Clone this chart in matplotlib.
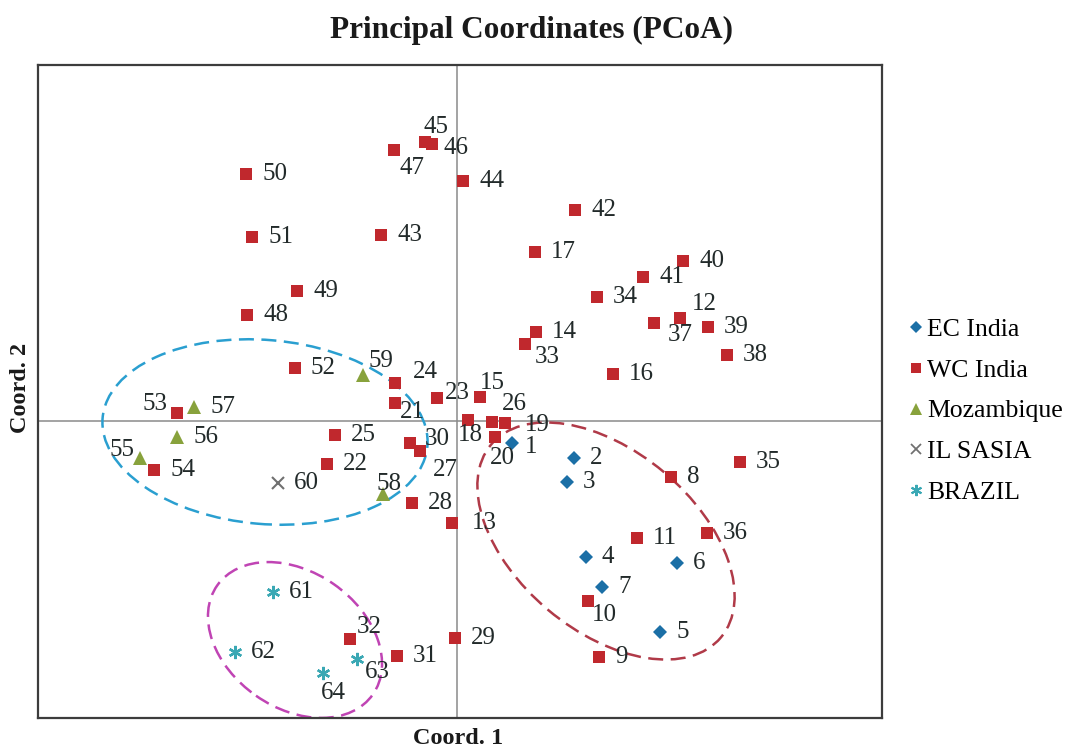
import matplotlib
matplotlib.use("Agg")
import matplotlib.pyplot as plt
from matplotlib.patches import Ellipse
from matplotlib.lines import Line2D

plt.rcParams["font.family"] = ["Liberation Serif", "DejaVu Serif"]

# ---- PCoA scores (Coord. 1, Coord. 2) by group ----
ec_ids = [1, 2, 3, 4, 5, 6, 7]
ec_x = [0.275, 0.585, 0.55, 0.645, 1.015, 1.10, 0.725]
ec_y = [-0.11, -0.185, -0.305, -0.68, -1.055, -0.71, -0.83]

wc_ids = list(range(8, 55))
wc_x = [1.07, 0.71, 0.655, 0.90, 1.115, -0.025, 0.395, 0.115, 0.78, 0.39,
        0.055, 0.24, 0.19, -0.31, -0.65, -0.10, -0.31, -0.61, 0.175, -0.185,
        -0.225, -0.01, -0.235, -0.30, -0.535, 0.34, 0.70, 1.415, 1.25, 0.985,
        1.35, 1.255, 1.13, 0.93, 0.59, -0.38, 0.03, -0.16, -0.125, -0.315,
        -1.05, -0.80, -1.055, -1.025, -0.81, -1.40, -1.515]
wc_y = [-0.28, -1.18, -0.90, -0.585, 0.515, -0.51, 0.445, 0.12, 0.235, 0.845,
        0.005, -0.01, -0.08, 0.09, -0.215, 0.115, 0.19, -0.07, -0.005, -0.15,
        -0.41, -1.085, -0.11, -1.175, -1.09, 0.385, 0.62, -0.205, -0.56, 0.49,
        0.33, 0.47, 0.80, 0.72, 1.055, 0.93, 1.20, 1.395, 1.385, 1.355,
        0.53, 0.65, 1.235, 0.92, 0.265, 0.04, -0.245]

moz_ids = [55, 56, 57, 58, 59]
moz_x = [-1.585, -1.40, -1.315, -0.37, -0.47]
moz_y = [-0.185, -0.08, 0.07, -0.365, 0.23]

il_ids = [60]
il_x = [-0.895]
il_y = [-0.31]

br_ids = [61, 62, 63, 64]
br_x = [-0.92, -1.11, -0.50, -0.67]
br_y = [-0.855, -1.155, -1.19, -1.26]

group_names = ["EC India", "WC India", "Mozambique", "IL SASIA", "BRAZIL"]

# ---- styling ----
groups = [
    (ec_ids, ec_x, ec_y, dict(marker="D", color="#1b6fa6", ms=7.5)),
    (wc_ids, wc_x, wc_y, dict(marker="s", color="#c0282d", ms=9.3)),
    (moz_ids, moz_x, moz_y, dict(marker="^", color="#88a23c", ms=9.5)),
    (il_ids, il_x, il_y, dict(marker="x", color="#707070", ms=9.0, mew=1.5)),
    (br_ids, br_x, br_y, dict(marker=(6, 2, 0), color="#3aa8b4", ms=9.5, mew=1.7)),
]

# label offsets in pixels (dx, dy) for ids that are not placed just to the right
label_offsets = {
    53: (-35, 9), 55: (-31, 8), 58: (-6, 10), 59: (5, 14), 24: (18, 11),
    21: (5, -9), 23: (8, 5), 30: (15, 4), 27: (13, -19), 18: (-10, -15),
    15: (0, 14), 26: (10, 18), 19: (20, -2), 20: (-5, -21), 1: (13, -4),
    10: (4, -14), 32: (7, 12), 63: (8, -13), 64: (-2, -20), 45: (-1, 15),
    46: (12, -4), 47: (6, -18), 12: (12, 14), 37: (14, -12), 33: (10, -13),
    13: (20, 0),
}
default_offset = (16, 0)

W, H = 1071, 751
fig = plt.figure(figsize=(W / 100, H / 100), dpi=100)
ax = fig.add_axes([38 / W, (H - 718) / H, 844 / W, 653 / H])

ax.set_xlim(-2.095, 2.125)
ax.set_ylim(-1.485, 1.78)
ax.set_xticks([])
ax.set_yticks([])
for sp in ax.spines.values():
    sp.set_color("#3c3c3c")
    sp.set_linewidth(1.6)

ax.axhline(0, color="#8a8a8a", lw=1.1, zorder=1)
ax.axvline(0, color="#8a8a8a", lw=1.1, zorder=1)

# group ellipses
ax.add_patch(Ellipse((-0.96, -0.055), 1.63, 0.92, angle=-5, fill=False,
                     ec="#2a9fd0", lw=1.8, ls=(0, (6, 3)), zorder=2))
ax.add_patch(Ellipse((0.745, -0.60), 1.50, 0.90, angle=-40, fill=False,
                     ec="#b03a48", lw=1.8, ls=(0, (6, 3)), zorder=2))
ax.add_patch(Ellipse((-0.81, -1.095), 0.95, 0.68, angle=-35, fill=False,
                     ec="#c044b4", lw=1.8, ls=(0, (6, 3)), zorder=2))

handles = []
for (ids, xs, ys, st), name in zip(groups, group_names):
    kw = dict(st)
    ms = kw.pop("ms")
    mew = kw.pop("mew", 0)
    ax.plot(xs, ys, ls="none", marker=kw["marker"], color=kw["color"],
            ms=ms, mew=mew, zorder=3)
    for i, x, y in zip(ids, xs, ys):
        dx, dy = label_offsets.get(i, default_offset)
        ax.annotate(str(i), (x, y), xytext=(dx, dy), textcoords="offset pixels",
                    ha="left", va="center", fontsize=18, color="#222a2a",
                    zorder=4)
    handles.append(Line2D([], [], ls="none", marker=kw["marker"],
                          color=kw["color"], ms=ms * 0.85, mew=mew * 0.85,
                          label=name))

fig.legend(handles=handles, loc="center left",
           bbox_to_anchor=(895 / W, 1 - 411 / H), frameon=False,
           fontsize=18.5, handlelength=0.6, handletextpad=0.15,
           labelspacing=0.69, borderpad=0)

fig.text(531 / W, 1 - 30 / H, "Principal Coordinates (PCoA)", ha="center",
         va="center", fontsize=22.5, fontweight="bold", color="#1a1a1a")
fig.text(458 / W, 1 - 738 / H, "Coord. 1", ha="center", va="center",
         fontsize=17.5, fontweight="bold", color="#1a1a1a")
fig.text(21 / W, 1 - 388 / H, "Coord. 2", ha="center", va="center",
         rotation=90, fontsize=17.5, fontweight="bold", color="#1a1a1a")

fig.savefig("out.png", dpi=100, facecolor="white")
